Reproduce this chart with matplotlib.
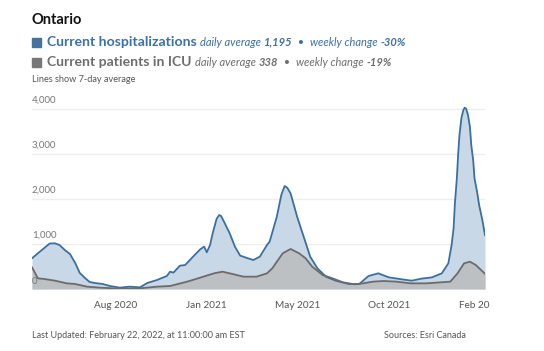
import matplotlib
matplotlib.use("Agg")
import matplotlib.pyplot as plt
import matplotlib.dates as mdates
import numpy as np
import pandas as pd

# ---- data ----
hosp_dates = ["2020-04-01", "2020-04-13", "2020-04-28", "2020-05-06", "2020-05-13", "2020-05-21",
              "2020-05-29", "2020-06-06", "2020-06-13", "2020-06-21", "2020-06-28", "2020-07-06",
              "2020-07-18", "2020-07-29", "2020-08-13", "2020-08-28", "2020-09-13", "2020-09-24",
              "2020-10-09", "2020-10-24", "2020-10-29", "2020-11-03", "2020-11-13", "2020-11-21",
              "2020-12-03", "2020-12-14", "2020-12-20", "2020-12-24", "2020-12-29", "2021-01-02",
              "2021-01-08", "2021-01-12", "2021-01-15", "2021-01-18", "2021-01-28", "2021-02-05",
              "2021-02-13", "2021-02-25",
              "2021-03-05", "2021-03-15", "2021-03-26", "2021-03-30", "2021-04-10", "2021-04-17",
              "2021-04-22", "2021-04-26",
              "2021-05-01", "2021-05-11", "2021-05-21", "2021-05-31", "2021-06-11", "2021-06-24",
              "2021-07-09", "2021-07-29", "2021-08-14", "2021-08-28", "2021-09-12", "2021-09-28",
              "2021-10-18", "2021-11-02", "2021-11-17", "2021-12-03", "2021-12-18", "2021-12-28",
              "2022-01-02", "2022-01-05", "2022-01-07", "2022-01-10", "2022-01-12", "2022-01-14",
              "2022-01-17", "2022-01-20", "2022-01-22", "2022-01-24", "2022-01-27", "2022-01-30",
              "2022-02-01", "2022-02-04", "2022-02-06", "2022-02-10", "2022-02-13", "2022-02-18",
              "2022-02-22"]
hosp_values = [682, 830, 1010, 1015, 978, 867,
               778, 578, 356, 244, 156, 133,
               111, 67, 30, 52, 37, 133,
               200, 289, 385, 363, 518, 533,
               718, 882, 941, 815, 978, 1237,
               1560, 1644, 1620, 1533, 1237, 941,
               741, 682,
               644, 718, 978, 1052, 1607, 2100,
               2289, 2250,
               2126, 1607, 1163, 718, 459, 274,
               185, 111, 111, 289, 348, 259,
               215, 185, 230, 259, 348, 570,
               978, 1348, 1900, 2459, 3000, 3422,
               3800, 3978, 4029, 4010, 3867, 3600,
               3200, 2850, 2459, 2150, 1867, 1530,
               1195]

icu_dates = ["2020-04-01", "2020-04-10", "2020-04-20", "2020-05-06", "2020-05-24", "2020-06-06",
             "2020-06-24", "2020-07-14", "2020-08-13", "2020-09-13", "2020-10-09", "2020-10-29",
             "2020-11-08", "2020-11-24", "2020-12-14", "2021-01-04", "2021-01-17", "2021-01-28",
             "2021-02-18", "2021-03-10", "2021-03-26", "2021-04-03", "2021-04-19", "2021-05-01",
             "2021-05-14", "2021-05-24", "2021-06-03", "2021-06-19", "2021-07-04", "2021-07-20",
             "2021-08-07", "2021-08-20", "2021-09-04", "2021-09-20", "2021-10-10", "2021-10-31",
             "2021-11-25", "2021-12-16", "2021-12-31", "2022-01-11", "2022-01-21", "2022-01-30",
             "2022-02-08", "2022-02-22"]
icu_values = [482, 237, 222, 185, 126, 111,
              52, 30, 8, 15, 52, 67,
              104, 163, 252, 348, 385, 348,
              274, 274, 348, 459, 793, 889,
              793, 682, 496, 311, 237, 148,
              104, 126, 163, 178, 163, 126,
              126, 148, 163, 348, 570, 607,
              533, 338]

tick_dates = ["2020-08-07", "2020-12-24", "2021-05-12", "2021-09-28", "2022-02-06"]
tick_labels = ["Aug 2020", "Jan 2021", "May 2021", "Oct 2021", "Feb 20"]
y_ticks = [0, 1000, 2000, 3000, 4000]
y_labels = ["0", "1,000", "2,000", "3,000", "4,000"]

hx = pd.to_datetime(hosp_dates)
ix = pd.to_datetime(icu_dates)

BLUE = "#3b6fa0"
BLUE_FILL = "#c9d8e6"
GRAY = "#6b6b6b"
GRAY_FILL = "#bdc0c3"
FONT = "Lato"

fig = plt.figure(figsize=(5.44, 3.51), dpi=100)
W, H = 544, 351
ax = fig.add_axes([32 / W, (H - 289) / H, (485 - 32) / W, (289 - 95.5) / H])

ax.fill_between(hx, hosp_values, 0, color=BLUE_FILL, lw=0, zorder=2)
ax.fill_between(ix, icu_values, 0, color=GRAY_FILL, lw=0, zorder=3)
ax.plot(hx, hosp_values, color=BLUE, lw=1.3, zorder=4, solid_joinstyle="round")
ax.plot(ix, icu_values, color=GRAY, lw=1.3, zorder=5, solid_joinstyle="round")

ax.set_xlim(hx[0], hx[-1])
ax.set_ylim(0, 4300)
for s in ax.spines.values():
    s.set_visible(False)
ax.set_yticks([])
for v in y_ticks[1:]:
    ax.axhline(v, color="#eeeeee", lw=1, zorder=1)
for v, lab in zip(y_ticks, y_labels):
    ax.annotate(lab, xy=(0, v), xycoords=("axes fraction", "data"), xytext=(0, 3 if v else 2),
                textcoords="offset points", ha="left", va="bottom", fontsize=7,
                color="#777777", family=FONT, zorder=6)

ax.set_xticks(pd.to_datetime(tick_dates))
ax.set_xticklabels(tick_labels, fontsize=7.2, color="#555555", family=FONT)
ax.tick_params(axis="x", length=0, pad=9)


def seq(x, y, parts):
    """Draw a sequence of (text, kwargs) pieces next to each other in pixel coords."""
    fig.canvas.draw()
    r = fig.canvas.get_renderer()
    cx = x
    for txt, kw in parts:
        t = fig.text(cx / W, 1 - y / H, txt, va="center", ha="left", family=FONT, **kw)
        bb = t.get_window_extent(renderer=r)
        cx += bb.width


fig.text(32 / W, 1 - 20 / H, "Ontario", fontsize=10.5, fontweight="bold", color="#111111",
         family=FONT, va="center")

# legend rows
fig.patches.append(plt.Rectangle((32 / W, 1 - 47 / H), 9 / W, 9 / H, transform=fig.transFigure,
                                 color="#44739f", figure=fig))
fig.patches.append(plt.Rectangle((32 / W, 1 - 67 / H), 9 / W, 9 / H, transform=fig.transFigure,
                                 color="#777777", figure=fig))

bc = "#3d70a3"
seq(47, 42, [("Current hospitalizations ", dict(fontsize=10.1, fontweight="bold", color=bc)),
             ("daily average ", dict(fontsize=8.0, style="italic", color=bc)),
             ("1,195", dict(fontsize=8.0, style="italic", fontweight="bold", color=bc)),
             ("  \u2022  ", dict(fontsize=8.0, color=bc)),
             ("weekly change ", dict(fontsize=8.0, style="italic", color=bc)),
             ("-30%", dict(fontsize=8.0, style="italic", fontweight="bold", color=bc))])
gc = "#6e6e6e"
seq(47, 62, [("Current patients in ICU ", dict(fontsize=10.1, fontweight="bold", color=gc)),
             ("daily average ", dict(fontsize=8.0, style="italic", color=gc)),
             ("338", dict(fontsize=8.0, style="italic", fontweight="bold", color=gc)),
             ("  \u2022  ", dict(fontsize=8.0, color=gc)),
             ("weekly change ", dict(fontsize=8.0, style="italic", color=gc)),
             ("-19%", dict(fontsize=8.0, style="italic", fontweight="bold", color=gc))])

fig.text(32 / W, 1 - 79 / H, "Lines show 7-day average", fontsize=6.6, color="#555555",
         family=FONT, va="center")

fig.text(32 / W, 1 - 335 / H, "Last Updated: February 22, 2022, at 11:00:00 am EST", fontsize=6.5,
         color="#555555", family=FONT, va="center")
fig.text(466 / W, 1 - 335 / H, "Sources: Esri Canada", fontsize=6.5, color="#555555",
         family=FONT, va="center", ha="right")

fig.savefig("out.png", dpi=100, facecolor="white")
